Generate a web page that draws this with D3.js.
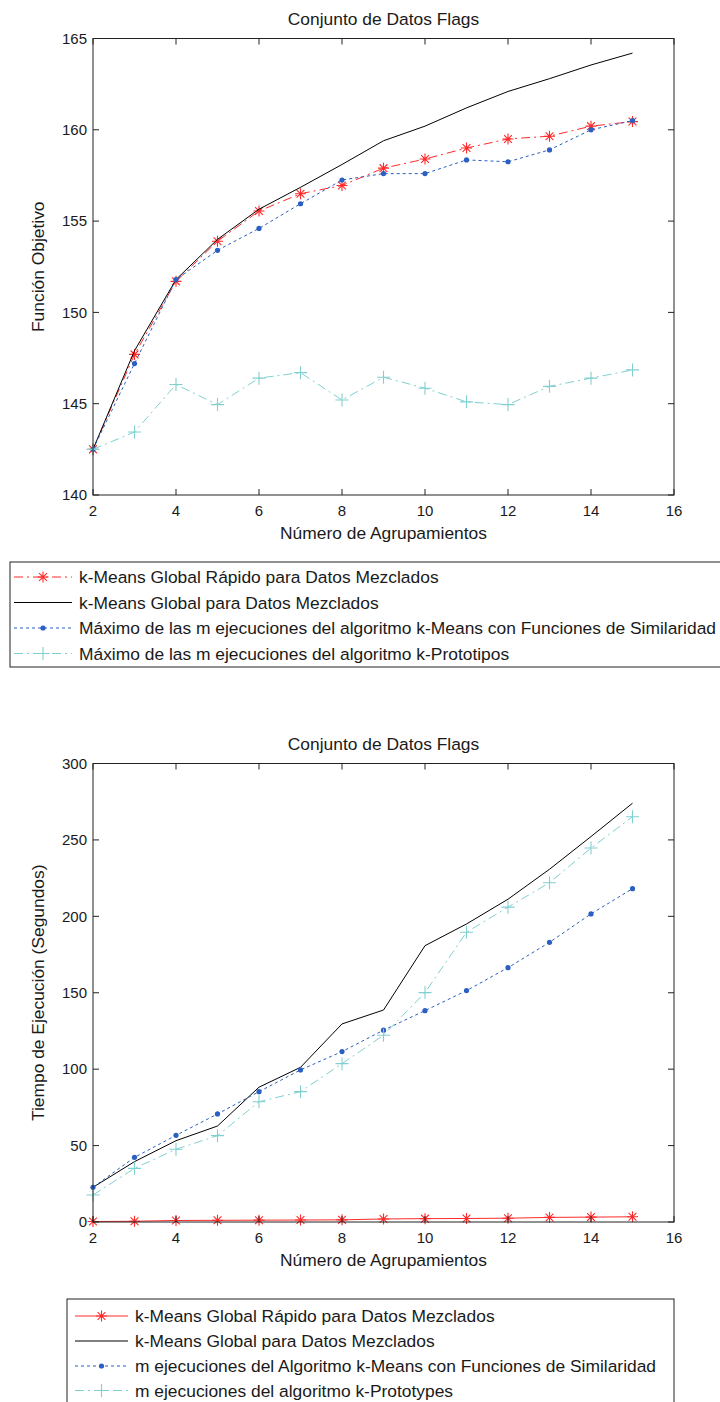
<!DOCTYPE html>
<html><head><meta charset="utf-8">
<script src="https://cdn.jsdelivr.net/npm/d3@7"></script>
<style>
html,body{margin:0;padding:0;background:#fff;}
svg{display:block;font-family:"Liberation Sans",Arial,sans-serif;}
</style></head>
<body>
<svg id="c" width="720" height="1402"></svg>
<script>
// ---------- data ----------
const clusters = [2,3,4,5,6,7,8,9,10,11,12,13,14,15];
const xTicks = [2,4,6,8,10,12,14,16];
const yTicksTop = [140,145,150,155,160,165];
const yTicksBottom = [0,50,100,150,200,250,300];

const title = "Conjunto de Datos Flags";
const xLabel = "Número de Agrupamientos";
const yLabelTop = "Función Objetivo";
const yLabelBottom = "Tiempo de Ejecución (Segundos)";

// Chart 1: objective function
const objFastGlobal = [142.5,147.7,151.7,153.9,155.55,156.5,156.95,157.9,158.4,159.0,159.5,159.65,160.2,160.45];
const objGlobal     = [142.5,147.9,151.8,154.0,155.65,156.85,158.1,159.4,160.2,161.2,162.1,162.8,163.55,164.2];
const objKMeansSim  = [142.5,147.2,151.8,153.4,154.6,155.95,157.25,157.6,157.6,158.35,158.25,158.9,160.0,160.5];
const objKProto     = [142.5,143.45,146.05,144.95,146.4,146.7,145.2,146.45,145.85,145.1,144.95,145.95,146.4,146.85];

const legendTop = [
  "k-Means Global Rápido para Datos Mezclados",
  "k-Means Global para Datos Mezclados",
  "Máximo de las m ejecuciones del algoritmo k-Means con Funciones de Similaridad",
  "Máximo de las m ejecuciones del algoritmo k-Prototipos"
];

// Chart 2: execution time
const timeFastGlobal = [0.3,0.5,1.0,1.1,1.2,1.3,1.4,2.0,2.2,2.3,2.5,3.0,3.2,3.4];
const timeGlobal     = [22.7,39.5,53.2,62.8,88.2,101.2,129.6,138.7,180.8,195.0,211.2,230.8,252.2,274.0];
const timeKMeansSim  = [22.7,42.3,56.7,70.7,85.3,99.5,111.5,125.5,138.3,151.4,166.4,183.0,201.6,218.1];
const timeKProto     = [17.7,35.1,47.6,56.5,78.7,85.3,103.6,122.2,150.1,189.6,206.0,222.0,244.7,265.2];

const legendBottom = [
  "k-Means Global Rápido para Datos Mezclados",
  "k-Means Global para Datos Mezclados",
  "m ejecuciones del Algoritmo k-Means con Funciones de Similaridad",
  "m ejecuciones del algoritmo k-Prototypes"
];

// ---------- styles ----------
const RED = "#ff2a2a", BLACK = "#000000", BLUE = "#2b5fc1", CYAN = "#80d0d0";
const TXT = "#1a1a1a";
const FS_TICK = 15;
const FS = 17.4;

const svg = d3.select("#c");

function marker(g, type, x, y, color){
  if(type === "star"){
    const a = 5.5, b = 3.9;
    g.append("path").attr("d",`M${x-a},${y}L${x+a},${y}M${x},${y-a}L${x},${y+a}M${x-b},${y-b}L${x+b},${y+b}M${x-b},${y+b}L${x+b},${y-b}`)
      .attr("stroke",color).attr("stroke-width",1.1).attr("fill","none");
  } else if(type === "plus"){
    const a = 6.5;
    g.append("path").attr("d",`M${x-a},${y}L${x+a},${y}M${x},${y-a}L${x},${y+a}`)
      .attr("stroke",color).attr("stroke-width",1.1).attr("fill","none");
  } else if(type === "dot"){
    g.append("circle").attr("cx",x).attr("cy",y).attr("r",2.6).attr("fill",color);
  }
}

function drawChart(cfg){
  const {left,right,top,bottom,yDomain,yTicks,series,yLabel,legend} = cfg;
  const x = d3.scaleLinear().domain([2,16]).range([left,right]);
  const y = d3.scaleLinear().domain(yDomain).range([bottom,top]);
  const g = svg.append("g");

  // title
  g.append("text").attr("x",(left+right)/2).attr("y",top-20).attr("dy","0.35em").attr("text-anchor","middle")
    .attr("font-size",FS).attr("fill",TXT).text(title);

  // series
  const line = d3.line().x((d,i)=>x(clusters[i])).y(d=>y(d));
  series.forEach(s=>{
    g.append("path").datum(s.values).attr("d",line).attr("fill","none")
      .attr("stroke",s.color).attr("stroke-width",s.width||1)
      .attr("stroke-dasharray",s.dash||null);
    if(s.marker){
      s.values.forEach((v,i)=>marker(g,s.marker,x(clusters[i]),y(v),s.color));
    }
  });

  // axes box
  g.append("rect").attr("x",left).attr("y",top).attr("width",right-left).attr("height",bottom-top)
    .attr("fill","none").attr("stroke","#222").attr("stroke-width",1);

  const tl = 6;
  // x ticks
  xTicks.forEach(t=>{
    const xx = x(t);
    g.append("line").attr("x1",xx).attr("x2",xx).attr("y1",bottom).attr("y2",bottom-tl).attr("stroke","#222");
    g.append("line").attr("x1",xx).attr("x2",xx).attr("y1",top).attr("y2",top+tl).attr("stroke","#222");
    g.append("text").attr("x",xx).attr("y",bottom+16).attr("dy","0.35em").attr("text-anchor","middle")
      .attr("font-size",FS_TICK).attr("fill",TXT).text(t);
  });
  // y ticks
  yTicks.forEach(t=>{
    const yy = y(t);
    g.append("line").attr("x1",left).attr("x2",left+tl).attr("y1",yy).attr("y2",yy).attr("stroke","#222");
    g.append("line").attr("x1",right).attr("x2",right-tl).attr("y1",yy).attr("y2",yy).attr("stroke","#222");
    g.append("text").attr("x",left-6).attr("y",yy).attr("dy","0.35em").attr("text-anchor","end")
      .attr("font-size",FS_TICK).attr("fill",TXT).text(t);
  });

  // labels
  g.append("text").attr("x",(left+right)/2).attr("y",bottom+38).attr("dy","0.35em").attr("text-anchor","middle")
    .attr("font-size",FS).attr("fill",TXT).text(xLabel);
  g.append("text").attr("transform",`translate(${38},${(top+bottom)/2}) rotate(-90)`)
    .attr("dy","0.35em").attr("text-anchor","middle").attr("font-size",FS).attr("fill",TXT).text(yLabel);

  // legend
  const L = legend;
  g.append("rect").attr("x",L.x).attr("y",L.y).attr("width",L.w).attr("height",L.h)
    .attr("fill","#fff").attr("stroke","#222").attr("stroke-width",1);
  series.forEach((s,i)=>{
    const ry = L.rows[i];
    g.append("line").attr("x1",L.lx1).attr("x2",L.lx2).attr("y1",ry).attr("y2",ry)
      .attr("stroke",s.color).attr("stroke-width",s.width||1).attr("stroke-dasharray",s.dash||null);
    if(s.marker) marker(g,s.marker,(L.lx1+L.lx2)/2,ry,s.color);
    g.append("text").attr("x",L.tx).attr("y",ry).attr("dy","0.35em").attr("font-size",FS)
      .attr("fill",TXT).text(L.labels[i]);
  });
}

drawChart({
  left:93,right:674,top:38.5,bottom:495,
  yDomain:[140,165], yTicks:yTicksTop, yLabel:yLabelTop,
  series:[
    {values:objFastGlobal,color:RED,dash:"9,4,2,4",marker:"star"},
    {values:objGlobal,color:BLACK},
    {values:objKMeansSim,color:BLUE,dash:"3,3",marker:"dot"},
    {values:objKProto,color:CYAN,dash:"9,4,2,4",marker:"plus"}
  ],
  legend:{x:10,y:562,w:730,h:105,rows:[577,602.5,628,653.5],lx1:14,lx2:72,tx:79,labels:legendTop}
});

drawChart({
  left:93,right:674,top:763.5,bottom:1222,
  yDomain:[0,300], yTicks:yTicksBottom, yLabel:yLabelBottom,
  series:[
    {values:timeFastGlobal,color:RED,marker:"star"},
    {values:timeGlobal,color:BLACK},
    {values:timeKMeansSim,color:BLUE,dash:"3,3",marker:"dot"},
    {values:timeKProto,color:CYAN,dash:"9,4,2,4",marker:"plus"}
  ],
  legend:{x:67,y:1299,w:607,h:120,rows:[1316,1341,1366,1390.5],lx1:75,lx2:128,tx:135,labels:legendBottom}
});
</script>
</body></html>
